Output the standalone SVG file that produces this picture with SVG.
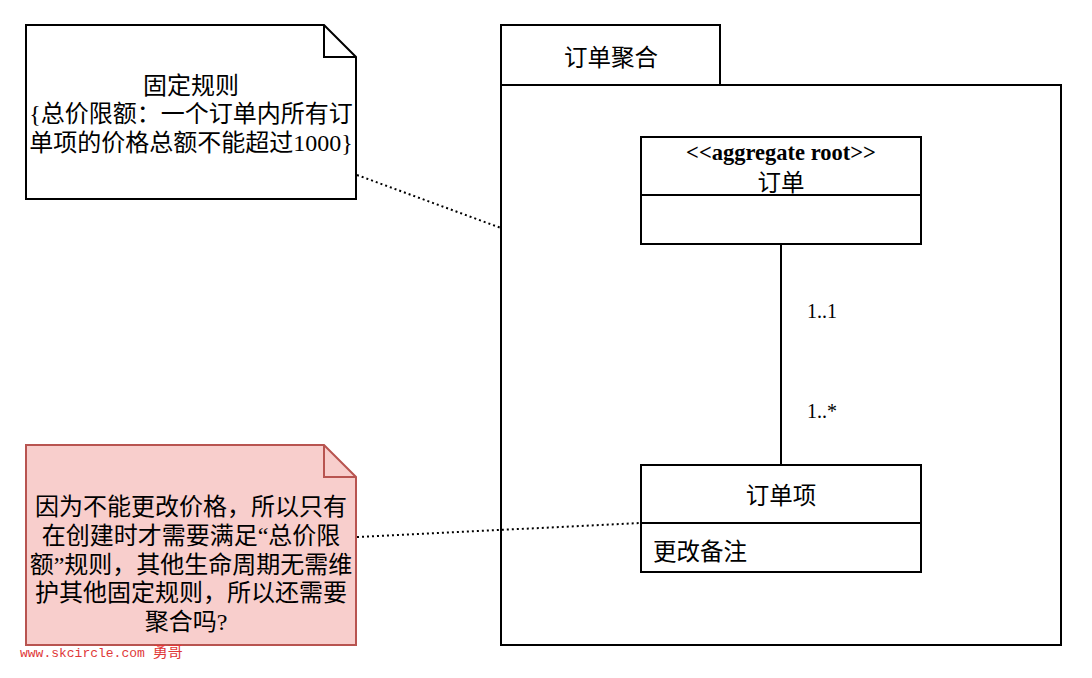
<svg xmlns="http://www.w3.org/2000/svg" width="1092" height="678" viewBox="0 0 1092 678">
<style>
.s{fill:none;stroke:#000;stroke-width:2}
.box{fill:#fff;stroke:#000;stroke-width:2}
.t{font-family:"Liberation Serif","Noto Sans CJK SC",serif;font-size:23.5px;fill:#000}
.n{font-size:24px}
.c{text-anchor:middle}
.m{font-size:20px}
.dot{fill:none;stroke:#000;stroke-width:2;stroke-dasharray:2 3}
</style>
<rect width="1092" height="678" fill="#fff"/>
<g id="package">
<rect class="box" x="501" y="25" width="219" height="60"/>
<rect class="box" x="501" y="85" width="560" height="560"/>
<text class="t c" x="611" y="66">订单聚合</text>
</g>
<g id="note1">
<path class="box" d="M26 25 H324 L356 57 V199 H26 Z"/>
<path class="s" d="M324 25 V57 H356"/>
<text class="t n c" x="191" y="94">固定规则</text>
<text class="t n c" x="191" y="122">{总价限额：一个订单内所有订</text>
<text class="t n c" x="191" y="151">单项的价格总额不能超过1000}</text>
</g>
<g id="note2">
<path d="M26 445 H324 L356 477 V645 H26 Z" fill="#f8cecc" stroke="#b85450" stroke-width="2"/>
<path d="M324 445 V477 H356" fill="none" stroke="#b85450" stroke-width="2"/>
<text class="t n c" x="191" y="515">因为不能更改价格，所以只有</text>
<text class="t n c" x="191" y="544">在创建时才需要满足“总价限</text>
<text class="t n c" x="191" y="573">额”规则，其他生命周期无需维</text>
<text class="t n c" x="191" y="601">护其他固定规则，所以还需要</text>
<text class="t n c" x="186" y="630">聚合吗?</text>
</g>
<g id="order">
<rect class="box" x="641" y="137" width="280" height="107"/>
<line class="s" x1="641" y1="195" x2="921" y2="195"/>
<text class="t c" x="781" y="160" font-weight="bold" style="font-size:22.5px">&lt;&lt;aggregate root&gt;&gt;</text>
<text class="t c" x="781" y="191">订单</text>
</g>
<g id="orderItem">
<rect class="box" x="641" y="465" width="280" height="107"/>
<line class="s" x1="641" y1="523" x2="921" y2="523"/>
<text class="t c" x="781" y="504">订单项</text>
<text class="t" x="653" y="560">更改备注</text>
</g>
<g id="connectors">
<line class="s" x1="781" y1="244" x2="781" y2="465"/>
<text class="t m" x="807" y="318">1..1</text>
<text class="t m" x="807" y="418">1..*</text>
<line class="dot" x1="357" y1="175" x2="501" y2="228"/>
<line class="dot" x1="357" y1="537" x2="641" y2="523"/>
</g>
<text x="20" y="657" font-family="'Liberation Mono','Noto Sans CJK SC',monospace" font-size="13" fill="#e03838">www.skcircle.com <tspan font-size="15">勇哥</tspan></text>
</svg>
